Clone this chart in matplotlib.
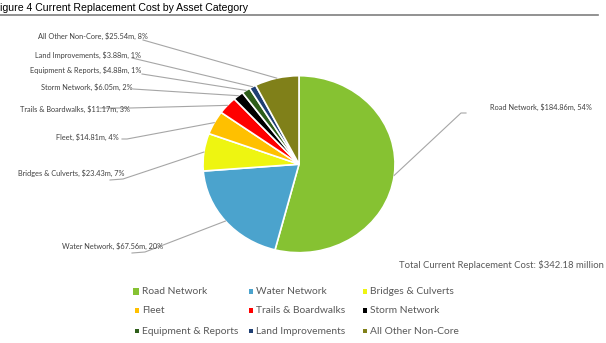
import matplotlib
matplotlib.use("Agg")
import matplotlib.pyplot as plt
from matplotlib.lines import Line2D
from matplotlib.patches import Rectangle
import numpy as np

# Asset categories and current replacement cost ($ millions)
categories = ["Road Network", "Water Network", "Bridges & Culverts", "Fleet",
              "Trails & Boardwalks", "Storm Network", "Equipment & Reports",
              "Land Improvements", "All Other Non-Core"]
costs = [184.86, 67.56, 23.43, 14.81, 11.17, 6.05, 4.88, 3.88, 25.54]
share_pct = [54, 20, 7, 4, 3, 2, 1, 1, 8]
total_cost = 342.18

colors = ["#86C232", "#4BA3CD", "#EEF511", "#FFC000", "#FF0000", "#000000",
          "#2E5E1A", "#1F3F73", "#808019"]

W, H = 606, 343
fig = plt.figure(figsize=(W / 100, H / 100), dpi=100)


def fpos(x, y):
    """Pixel position (from top-left) to figure fraction."""
    return x / W, 1 - y / H


LABEL_FONT = "Lato"
TEXT_GREY = "#404040"
LINE_GREY = "#A6A6A6"

# Title and rule beneath it
tx, ty = fpos(0, 8)
fig.text(tx, ty, "igure 4 Current Replacement Cost by Asset Category",
         ha="left", va="center", fontsize=7.6, family="Liberation Sans",
         color="black")
x0, y0 = fpos(0, 14.5)
x1, _ = fpos(598, 14.5)
fig.add_artist(Line2D([x0, x1], [y0, y0], transform=fig.transFigure,
                      color="#7F7F7F", lw=1.2))

# Pie
left, bottom = fpos(203, 252.7)
ax = fig.add_axes([left, bottom, 192 / W, 177 / H])
wedges, _ = ax.pie(costs, colors=colors, startangle=90, counterclock=False,
                   radius=1.0,
                   wedgeprops=dict(edgecolor="white", linewidth=1.2))
ax.set_aspect("auto")
ax.set_xlim(-1, 1)
ax.set_ylim(-1, 1)
ax.axis("off")

# Data label layout: (text x, text y, ha, leader polyline start points in px)
label_layout = [
    (490, 107, "left", [(466, 113), (461, 113)]),    # Road Network
    (163, 246, "right", [(132, 253), (145, 252)]),   # Water Network
    (125, 173, "right", [(110, 180), (123, 179)]),   # Bridges & Culverts
    (119, 137, "right", [(122, 139), (127, 139)]),   # Fleet
    (130, 109, "right", [(100, 108), (130, 108)]),   # Trails & Boardwalks
    (133, 87, "right", [(133, 89)]),                 # Storm Network
    (141, 70, "right", [(142, 74)]),                 # Equipment & Reports
    (141, 55, "right", [(132, 58)]),                 # Land Improvements
    (148, 36, "right", [(143, 40)]),                 # All Other Non-Core
]

fig.canvas.draw()
to_fig = fig.transFigure.inverted()
for wedge, name, cost, pct, (lx, ly, ha, pts) in zip(
        wedges, categories, costs, share_pct, label_layout):
    mid = np.deg2rad((wedge.theta1 + wedge.theta2) / 2)
    edge_disp = ax.transData.transform((np.cos(mid), np.sin(mid)))
    ex, ey = to_fig.transform(edge_disp)
    xs = [fpos(px, py)[0] for px, py in pts] + [ex]
    ys = [fpos(px, py)[1] for px, py in pts] + [ey]
    fig.add_artist(Line2D(xs, ys, transform=fig.transFigure,
                          color=LINE_GREY, lw=0.8))
    fx_, fy_ = fpos(lx, ly)
    fig.text(fx_, fy_, f"{name}, ${cost:.2f}m, {pct}%", ha=ha, va="center",
             fontsize=5.3, family=LABEL_FONT, color=TEXT_GREY,
             parse_math=False)

# Total annotation
tx, ty = fpos(604, 265)
fig.text(tx, ty, f"Total Current Replacement Cost: ${total_cost:.2f} million",
         ha="right", va="center", fontsize=6.8, family=LABEL_FONT,
         color="#595959", parse_math=False)

# Legend (3 columns)
col_text_x = [142, 256, 370]
row_y = [291.5, 310.5, 331]
for i, (name, c) in enumerate(zip(categories, colors)):
    r, col = divmod(i, 3)
    size = 6.5 if i == 0 else 4.2
    mx = col_text_x[col] - 3 - size
    my = row_y[r] - size / 2
    bx, by = fpos(mx, my + size)
    fig.add_artist(Rectangle((bx, by), size / W, size / H,
                             transform=fig.transFigure, facecolor=c,
                             edgecolor="none"))
    tx, ty = fpos(col_text_x[col], row_y[r])
    fig.text(tx, ty, name, ha="left", va="center", fontsize=7.4,
             family=LABEL_FONT, color="#595959")

fig.savefig("out.png", dpi=100, facecolor="white")
